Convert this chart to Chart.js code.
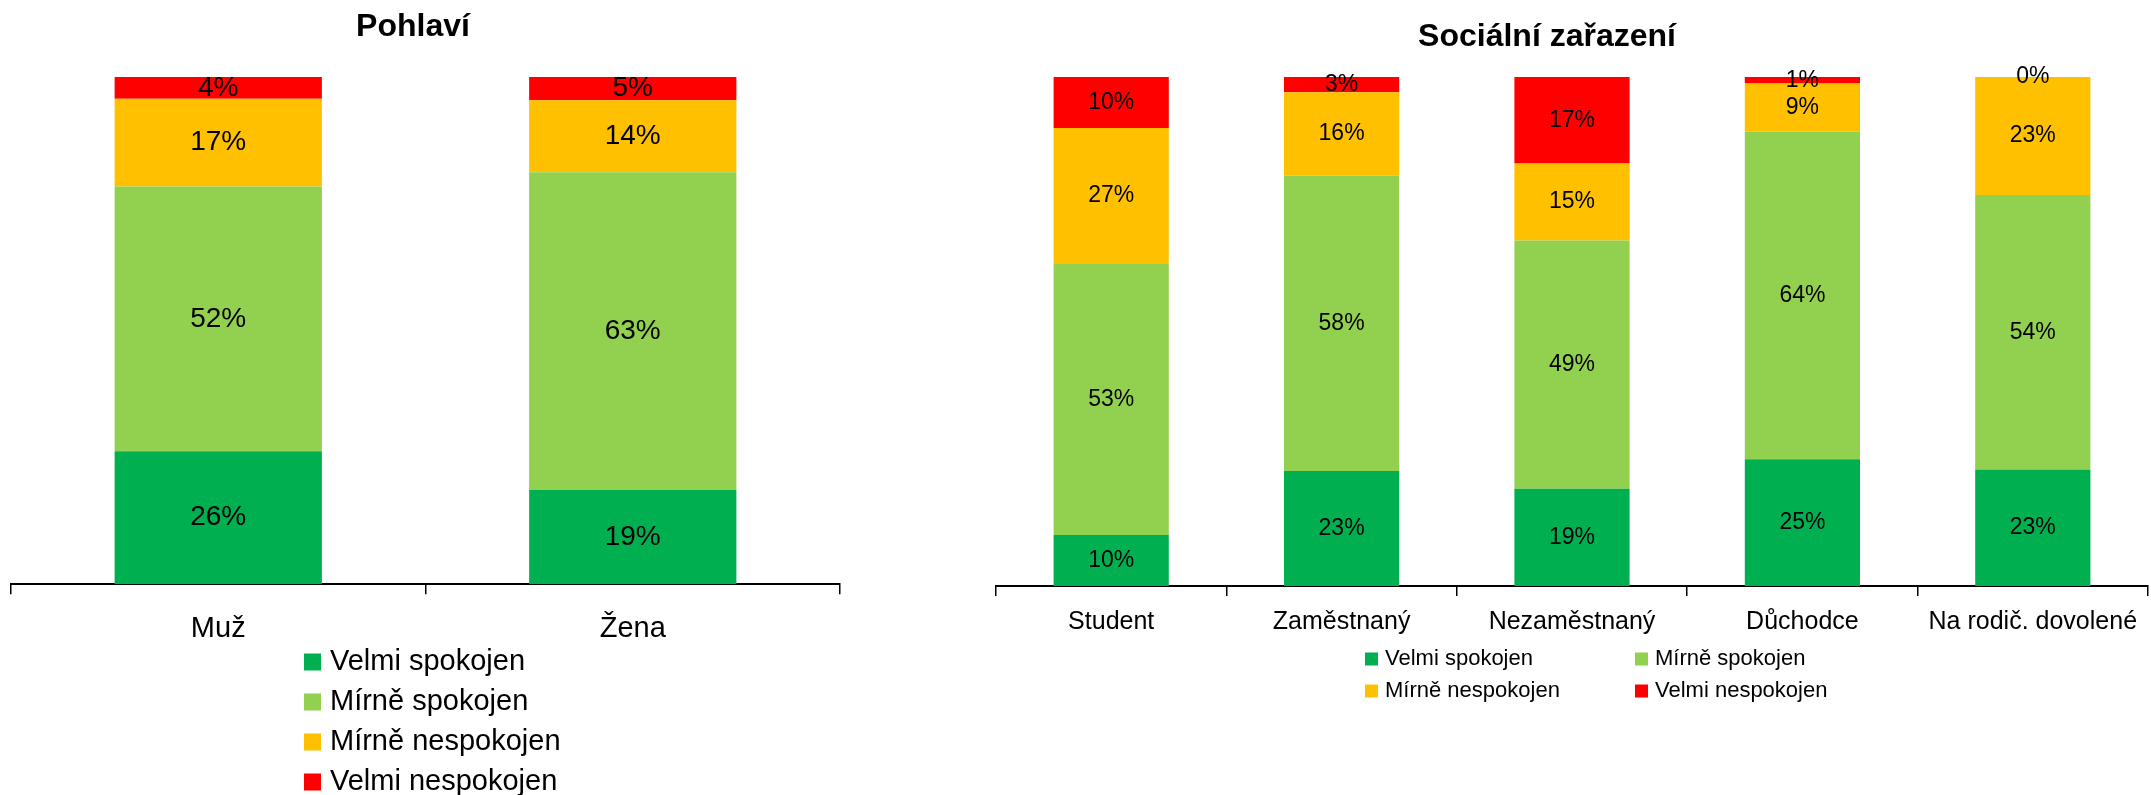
<!DOCTYPE html>
<html lang="cs">
<head>
<meta charset="utf-8">
<title>Spokojenost</title>
<script src="https://cdn.jsdelivr.net/npm/chart.js@4.4.1/dist/chart.umd.min.js"></script>
<style>
  body { margin: 0; background: #fff; }
  #wrap { position: relative; width: 2151px; height: 795px; overflow: hidden; }
  .box { position: absolute; top: 0; height: 795px; }
  #left { left: 0; width: 870px; }
  #right { left: 940px; width: 1211px; }
</style>
</head>
<body>
<div id="wrap">
  <div class="box" id="left"><canvas id="pohlaviChart" width="870" height="795"></canvas></div>
  <div class="box" id="right"><canvas id="socialChart" width="1211" height="795"></canvas></div>
</div>
<script>
const FONT = "'Liberation Sans', Arial, sans-serif";

const seriesNames = ['Velmi spokojen', 'Mírně spokojen', 'Mírně nespokojen', 'Velmi nespokojen'];
const seriesColors = ['#00B050', '#92D050', '#FFC000', '#FF0000'];

// Pohlaví
const pohlaviCats = ['Muž', 'Žena'];
const pohlaviVelmiSpok = [26.2, 18.6];
const pohlaviMirneSpok = [52.2, 62.6];
const pohlaviMirneNespok = [17.3, 14.2];
const pohlaviVelmiNespok = [4.3, 4.6];

// Sociální zařazení
const socialCats = ['Student', 'Zaměstnaný', 'Nezaměstnaný', 'Důchodce', 'Na rodič. dovolené'];
const socialVelmiSpok = [10.0, 22.6, 19.1, 24.9, 22.9];
const socialMirneSpok = [53.4, 58.0, 48.8, 64.4, 53.9];
const socialMirneNespok = [26.6, 16.4, 15.1, 9.4, 23.2];
const socialVelmiNespok = [10.0, 3.0, 17.0, 1.3, 0.0];

Chart.defaults.font.family = FONT;
Chart.defaults.color = '#000';

// procenta doprostred kazdeho useku
const segmentLabels = {
    id: 'segmentLabels',
    afterDatasetsDraw(chart, args, opts) {
        const ctx = chart.ctx;
        ctx.save();
        ctx.font = opts.size + 'px ' + FONT;
        ctx.fillStyle = '#000';
        ctx.textAlign = 'center';
        ctx.textBaseline = 'middle';
        chart.data.datasets.forEach((ds, i) => {
            chart.getDatasetMeta(i).data.forEach((bar, j) => {
                ctx.fillText(Math.round(ds.data[j]) + '%', bar.x, (bar.y + bar.base) / 2);
            });
        });
        ctx.restore();
    }
};

// nadpis a legenda (mrizka jako v Excelu)
const titleAndLegend = {
    id: 'titleAndLegend',
    afterDraw(chart, args, opts) {
        const ctx = chart.ctx;
        ctx.save();
        ctx.fillStyle = '#000';
        ctx.textBaseline = 'middle';
        ctx.textAlign = 'center';
        ctx.font = 'bold ' + opts.titleSize + 'px ' + FONT;
        ctx.fillText(opts.title, opts.titleX, opts.titleY);

        ctx.textAlign = 'left';
        ctx.font = opts.legendSize + 'px ' + FONT;
        chart.data.datasets.forEach((ds, i) => {
            const col = i % opts.cols;
            const row = Math.floor(i / opts.cols);
            const x = opts.legendX + col * opts.colGap;
            const y = opts.legendY + row * opts.rowGap;
            ctx.fillStyle = ds.backgroundColor;
            ctx.fillRect(x, y - opts.box / 2, opts.box, opts.box);
            ctx.fillStyle = '#000';
            ctx.fillText(ds.label, x + opts.box + opts.gap, y);
        });
        ctx.restore();
    }
};

function makeDatasets(values) {
    return values.map((data, i) => ({
        label: seriesNames[i],
        data: data,
        backgroundColor: seriesColors[i],
        borderWidth: 0,
        barPercentage: 0.5,
        categoryPercentage: 1.0
    }));
}

function makeOptions(tickSize, tickPad, padding, labelSize, overlay) {
    return {
        responsive: false,
        animation: false,
        devicePixelRatio: 1,
        layout: { padding: padding },
        plugins: {
            legend: { display: false },
            title: { display: false },
            tooltip: { enabled: false },
            segmentLabels: { size: labelSize },
            titleAndLegend: overlay
        },
        scales: {
            x: {
                stacked: true,
                grid: {
                    display: true, drawOnChartArea: false, drawTicks: true,
                    tickLength: 10, color: '#000', lineWidth: 1.5, offset: true
                },
                border: { display: true, color: '#000', width: 2 },
                ticks: {
                    color: '#000', font: { size: tickSize }, padding: tickPad,
                    maxRotation: 0, autoSkip: false
                }
            },
            y: { stacked: true, display: false, min: 0, max: 100 }
        }
    };
}

new Chart(document.getElementById('pohlaviChart'), {
    type: 'bar',
    data: {
        labels: pohlaviCats,
        datasets: makeDatasets([pohlaviVelmiSpok, pohlaviMirneSpok, pohlaviMirneNespok, pohlaviVelmiNespok])
    },
    options: makeOptions(29, 17, { left: 11, right: 30, top: 77, bottom: 132 }, 28, {
        title: 'Pohlaví', titleSize: 32, titleX: 413, titleY: 27,
        legendSize: 29, legendX: 304, legendY: 662, cols: 1, colGap: 0, rowGap: 40, box: 17, gap: 9
    }),
    plugins: [segmentLabels, titleAndLegend]
});

new Chart(document.getElementById('socialChart'), {
    type: 'bar',
    data: {
        labels: socialCats,
        datasets: makeDatasets([socialVelmiSpok, socialMirneSpok, socialMirneNespok, socialVelmiNespok])
    },
    options: makeOptions(25, 11, { left: 56, right: 3, top: 77, bottom: 147 }, 23, {
        title: 'Sociální zařazení', titleSize: 32, titleX: 607, titleY: 37,
        legendSize: 22, legendX: 425, legendY: 659, cols: 2, colGap: 270, rowGap: 32, box: 13, gap: 7
    }),
    plugins: [segmentLabels, titleAndLegend]
});
</script>
</body>
</html>
